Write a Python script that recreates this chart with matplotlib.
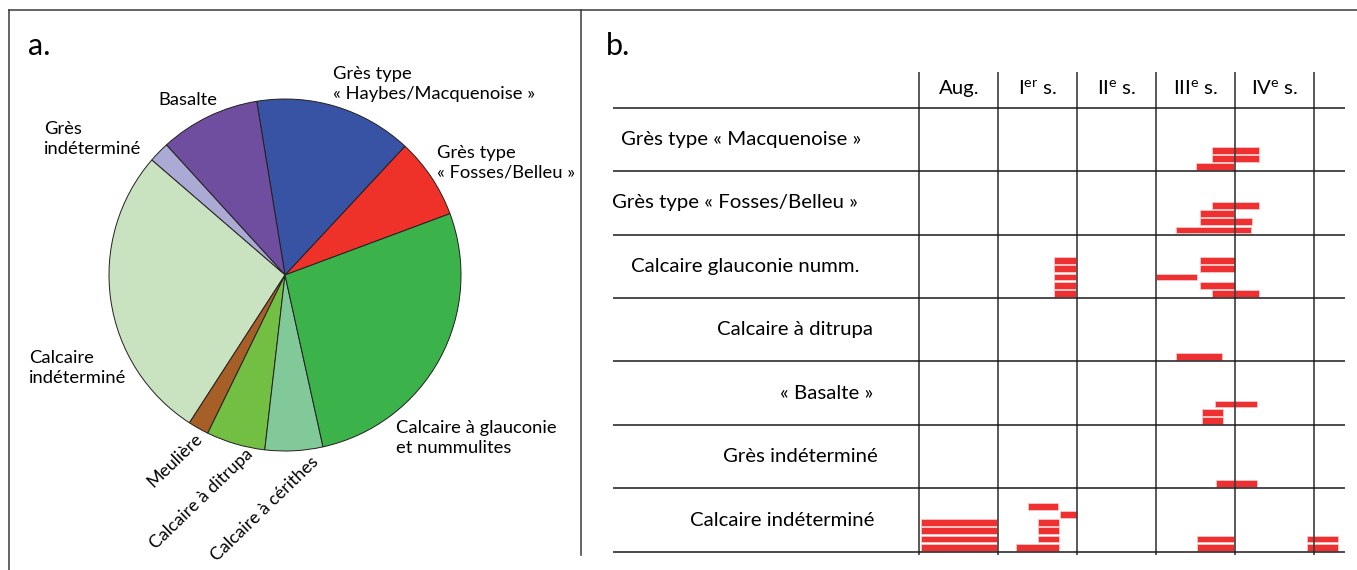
import matplotlib
matplotlib.use("Agg")
import matplotlib.pyplot as plt

plt.rcParams["font.family"] = ["Lato", "DejaVu Sans"]
plt.rcParams["mathtext.fontset"] = "custom"
plt.rcParams["mathtext.rm"] = "Lato"

# ----------------------------
# Data : a. pie (share of each stone type, %)
# ----------------------------
pie_labels = [
    "Grès type « Fosses/Belleu »",
    "Grès type « Haybes/Macquenoise »",
    "Basalte",
    "Grès indéterminé",
    "Calcaire indéterminé",
    "Meulière",
    "Calcaire à ditrupa",
    "Calcaire à cérithes",
    "Calcaire à glauconie et nummulites",
]
pie_values = [7.4, 14.5, 9.2, 1.9, 27.2, 1.9, 5.4, 5.3, 27.2]
pie_colors = ["#ee3129", "#3953a4", "#6f4e9f", "#aaaad4", "#c9e3c1",
              "#a65f26", "#72bf44", "#82c99a", "#3bb34a"]

# ----------------------------
# Data : b. dating ranges (years), one bar per object
# ----------------------------
row_labels = [
    "Grès type « Macquenoise »",
    "Grès type « Fosses/Belleu »",
    "Calcaire glauconie numm.",
    "Calcaire à ditrupa",
    "« Basalte »",
    "Grès indéterminé",
    "Calcaire indéterminé",
]
periods = ["Aug.", r"I$^{\rm er}$ s.", r"II$^{\rm e}$ s.", r"III$^{\rm e}$ s.", r"IV$^{\rm e}$ s."]
period_bounds = [-100, 0, 100, 200, 300, 400]

bar_row   = [0, 0, 0,
             1, 1, 1, 1,
             2, 2, 2, 2, 2, 2, 2, 2, 2, 2,
             3,
             4, 4, 4,
             5,
             6, 6, 6, 6, 6, 6, 6, 6, 6, 6, 6, 6, 6, 6]
bar_level = [0, 1, 2,
             0, 1, 2, 3,
             0, 1, 2, 3, 4, 0, 1, 2, 3, 4,
             0,
             0, 1, 2,
             0,
             0, 1, 2, 3, 0, 1, 2, 3, 4, 5, 0, 1, 0, 1]
bar_start = [250, 270, 270,
             225, 255, 255, 270,
             70, 70, 70, 70, 70, 270, 255, 200, 255, 255,
             225,
             258, 258, 275,
             276,
             -98, -98, -98, -98, 22, 50, 50, 50, 78, 37, 252, 252, 391, 391]
bar_end   = [299, 330, 330,
             320, 321, 298, 330,
             98, 98, 98, 98, 98, 330, 300, 251, 300, 300,
             283,
             284, 284, 327,
             327,
             -2, -2, -2, -2, 77, 77, 77, 77, 99, 75, 299, 299, 430, 430]

# ----------------------------
# Figure
# ----------------------------
W, H = 1357, 570
fig = plt.figure(figsize=(W / 100, H / 100), dpi=100)

# background axes in pixel units for frame and free labels
bg = fig.add_axes([0, 0, 1, 1])
bg.set_xlim(0, W)
bg.set_ylim(H, 0)
bg.axis("off")
frame_kw = dict(color="#3a3a3a", lw=1.1)
bg.plot([9, W], [10, 10], **frame_kw)
bg.plot([9, 9], [10, H], **frame_kw)
bg.plot([581, 581], [10, 555], **frame_kw)
bg.text(28, 46, "a.", fontsize=22, va="center", ha="left")
bg.text(606, 46, "b.", fontsize=22, va="center", ha="left")

# ---- a. pie
cx, cy, r = 285, 275, 176
axp = fig.add_axes([(cx - r) / W, 1 - (cy + r) / H, 2 * r / W, 2 * r / H])
axp.pie(pie_values, colors=pie_colors, startangle=20.4, counterclock=True,
        wedgeprops=dict(edgecolor="#231f20", linewidth=0.7))
axp.set_xlim(-1, 1)
axp.set_ylim(-1, 1)

fs_a = 13.2
lab_kw = dict(fontsize=fs_a, ha="left", va="center", linespacing=1.3)
bg.text(333, 84, "Grès type\n« Haybes/Macquenoise »", **lab_kw)
bg.text(158, 100, "Basalte", **lab_kw)
bg.text(44, 139, "Grès\nindéterminé", **lab_kw)
bg.text(437, 163, "Grès type\n« Fosses/Belleu »", **lab_kw)
bg.text(29, 368, "Calcaire\nindéterminé", **lab_kw)
bg.text(396, 438, "Calcaire à glauconie\net nummulites", **lab_kw)
rot_kw = dict(fontsize=12.8, ha="right", va="center", rotation=44,
              rotation_mode="anchor")
bg.text(200, 436, "Meulière", **rot_kw)
bg.text(250, 452, "Calcaire à ditrupa", **rot_kw)
bg.text(316, 459, "Calcaire à cérithes", **rot_kw)

# ---- b. chronology chart
x0, x1 = -488, 439
n_rows = len(row_labels)
axb = fig.add_axes([613 / W, 1 - 555 / H, (1345 - 613) / W, (555 - 72) / H])
axb.set_xlim(x0, x1)
axb.set_ylim(n_rows + 0.05, -0.563)
axb.axis("off")

axb.vlines(period_bounds, n_rows + 0.05, -0.563, color="#3c3c3c", lw=1.2)
axb.hlines(range(n_rows + 1), x0, x1, color="#1a1a1a", lw=1.1)

pitch, bh, off = 0.129, 0.107, 0.073
for row, lev, s, e in zip(bar_row, bar_level, bar_start, bar_end):
    axb.barh(row + 1 - off - lev * pitch, e - s, left=s, height=bh,
             color="#ef3030", edgecolor="#f8c8c8", linewidth=0.6)

fs_b = 14.7
for i, p in enumerate(periods):
    mid = (period_bounds[i] + period_bounds[i + 1]) / 2
    axb.text(mid, -0.3, p, fontsize=fs_b, ha="center", va="center")

row_label_x = [-326, -333, -321, -257, -218, -251, -274]
for i, lab in enumerate(row_labels):
    axb.text(row_label_x[i], i + 0.5, lab, fontsize=fs_b, ha="center", va="center")

fig.savefig("out.png", dpi=100)
